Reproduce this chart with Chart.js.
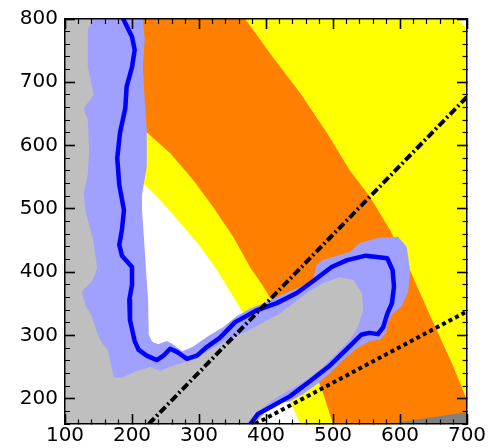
<!DOCTYPE html>
<html>
<head>
<meta charset="utf-8">
<script src="https://cdn.jsdelivr.net/npm/chart.js@4.4.1/dist/chart.umd.min.js"></script>
<style>
  html, body { margin: 0; padding: 0; background: #fff; }
  canvas { display: block; }
</style>
</head>
<body>
<canvas id="chart" width="490" height="448"></canvas>
<script>
// axes
const xRange = [100, 700];
const yRange = [160, 800];
const xTickLabels = [100, 200, 300, 400, 500, 600, 700];
const yTickLabels = [200, 300, 400, 500, 600, 700, 800];
const minorStep = 20;

// central contour (blue line)
const bestX = [184, 187, 200, 204, 200, 192, 190, 182, 178, 181, 188, 185, 181, 185, 200, 200, 196, 197, 204, 210, 222, 237, 248, 257, 267, 282, 297, 312, 331, 354, 387, 416, 446, 473, 498, 521, 549, 581, 589, 591, 588, 581, 575, 567, 554, 542, 525, 496, 466, 436, 409, 388, 377, 372];
const bestY = [810, 800, 772, 751, 724, 693, 659, 620, 580, 538, 498, 467, 443, 426, 408, 380, 356, 324, 291, 277, 268, 261, 269, 279, 274, 263, 268, 282, 296, 321, 340, 351, 367, 388, 408, 419, 426, 422, 403, 377, 351, 334, 313, 302, 304, 301, 283, 253, 228, 204, 188, 176, 160, 152];

// outer edge of the band (light blue)
const outerX = [216, 219, 216, 219, 222, 222, 218, 215, 215, 219, 224, 225, 230, 239, 252, 261, 275, 291, 312, 336, 357, 376, 396, 425, 451, 470, 475, 485, 525, 540, 566, 597, 610, 615, 612, 603, 590, 582, 579, 570, 555, 536, 515, 496, 476, 455, 436, 416, 402, 389, 385, 382, 80, 80, 216];
const outerY = [800, 767, 724, 672, 625, 566, 542, 522, 498, 435, 356, 301, 290, 286, 291, 286, 275, 282, 298, 313, 331, 342, 351, 365, 377, 388, 411, 419, 432, 446, 454, 456, 440, 403, 369, 347, 335, 321, 304, 293, 291, 280, 261, 241, 223, 207, 196, 192, 182, 167, 160, 140, 140, 820, 820];

// inner edge of the band (grey region)
const innerX = [142, 134, 134, 143, 128, 134, 136, 134, 128, 131, 142, 148, 142, 125, 131, 139, 149, 155, 164, 169, 173, 185, 208, 227, 242, 261, 287, 312, 339, 376, 421, 461, 485, 510, 530, 543, 545, 537, 525, 506, 485, 461, 436, 410, 391, 377, 370, 368, 80, 80, 142];
const innerY = [800, 783, 724, 680, 659, 640, 593, 554, 525, 494, 451, 407, 388, 369, 347, 332, 302, 288, 277, 253, 234, 233, 244, 250, 244, 252, 261, 274, 291, 309, 335, 367, 383, 392, 388, 367, 340, 313, 293, 272, 250, 230, 214, 198, 182, 168, 160, 140, 140, 820, 820];

// white region below the inner yellow band
const whiteX = [120, 170, 197, 219, 242, 272, 302, 327, 354, 376, 406, 428, 440, 451, 461, 60, 60];
const whiteY = [630, 590, 561, 538, 514, 478, 440, 403, 356, 317, 261, 214, 187, 160, 135, 135, 630];

// orange band
const orangeX = [60, 120, 180, 212, 222, 257, 291, 321, 351, 376, 394, 436, 476, 485, 500, 510, 724, 700, 678, 648, 615, 585, 555, 525, 491, 451, 410, 369, 340, 60];
const orangeY = [740, 700, 660, 640, 621, 588, 546, 503, 456, 408, 380, 309, 234, 209, 160, 135, 135, 198, 255, 324, 403, 467, 519, 561, 620, 683, 740, 800, 840, 840];

// yellow background
const yellowX = [50, 750, 750, 50];
const yellowY = [100, 100, 850, 850];

// corners
const cornerWhiteX = [670, 720, 720, 670];
const cornerWhiteY = [822, 757, 850, 850];
const cornerGreyX = [560, 720, 720, 560];
const cornerGreyY = [156.6, 182.2, 100, 100];

// straight lines
const dashDotX = [225, 700];
const dashDotY = [160, 677];
const dottedX = [384, 700];
const dottedY = [160, 338];

function pts(xs, ys) {
  return xs.map((x, i) => ({ x: x, y: ys[i] }));
}

function area(xs, ys, color) {
  return {
    data: pts(xs, ys),
    backgroundColor: color,
    borderColor: 'transparent',
    borderWidth: 0,
    fill: 'shape'
  };
}

function tickDash(innerStart) {
  return ctx => {
    const v = ctx.tick ? ctx.tick.value : 0;
    if (v % 100 === 0) return [];
    return innerStart ? [0, 5, 5, 30] : [5, 30];
  };
}

function tickWidth(ctx) {
  const v = ctx.tick ? ctx.tick.value : 0;
  return v % 100 === 0 ? 1.6 : 1.2;
}

function makeAxis(position, range, labels, size, innerStart) {
  const horizontal = position === 'top' || position === 'bottom';
  return {
    type: 'linear',
    position: position,
    min: range[0],
    max: range[1],
    ticks: {
      stepSize: minorStep,
      autoSkip: false,
      maxRotation: 0,
      display: labels !== null,
      color: '#000',
      font: { size: 20, family: 'DejaVu Sans' },
      padding: horizontal ? 10 : 17,
      callback: v => (labels && labels.includes(v)) ? String(v) : ''
    },
    grid: {
      z: 1,
      drawOnChartArea: false,
      tickLength: -10,
      tickColor: '#000',
      tickWidth: tickWidth,
      tickBorderDash: tickDash(innerStart)
    },
    border: { display: true, color: '#000', width: 1.5, z: 1 },
    afterFit: s => {
      if (horizontal) s.height = size; else s.width = size;
      // fixed frame, no extra room for overhanging labels
      s.paddingLeft = 0;
      s.paddingRight = 0;
      s.paddingTop = 0;
      s.paddingBottom = 0;
    }
  };
}

Chart.defaults.font.family = 'DejaVu Sans';

new Chart(document.getElementById('chart'), {
  type: 'line',
  data: {
    datasets: [
      {
        data: pts(dashDotX, dashDotY),
        borderColor: '#000',
        borderWidth: 4,
        borderDash: [8, 3, 2, 3],
        fill: false
      },
      {
        data: pts(dottedX, dottedY),
        borderColor: '#000',
        borderWidth: 4,
        borderDash: [4, 3.3],
        fill: false
      },
      {
        data: pts(bestX, bestY),
        borderColor: '#0000ff',
        borderWidth: 4.5,
        borderJoinStyle: 'round',
        borderCapStyle: 'round',
        fill: false
      },
      area(innerX, innerY, '#bfbfbf'),
      area(outerX, outerY, '#a0a0ff'),
      area(cornerGreyX, cornerGreyY, '#808080'),
      area(cornerWhiteX, cornerWhiteY, '#ffffff'),
      area(whiteX, whiteY, '#ffffff'),
      area(orangeX, orangeY, '#ff8000'),
      area(yellowX, yellowY, '#ffff00')
    ]
  },
  options: {
    responsive: false,
    animation: false,
    devicePixelRatio: 1,
    events: [],
    layout: { padding: 0, autoPadding: false },
    elements: {
      point: { radius: 0, hoverRadius: 0 },
      line: { tension: 0 }
    },
    plugins: {
      legend: { display: false },
      tooltip: { enabled: false }
    },
    scales: {
      x: makeAxis('bottom', xRange, xTickLabels, 24, false),
      x2: makeAxis('top', xRange, null, 19, true),
      y: makeAxis('left', yRange, yTickLabels, 65, true),
      y2: makeAxis('right', yRange, null, 23, false)
    }
  }
});
</script>
</body>
</html>
